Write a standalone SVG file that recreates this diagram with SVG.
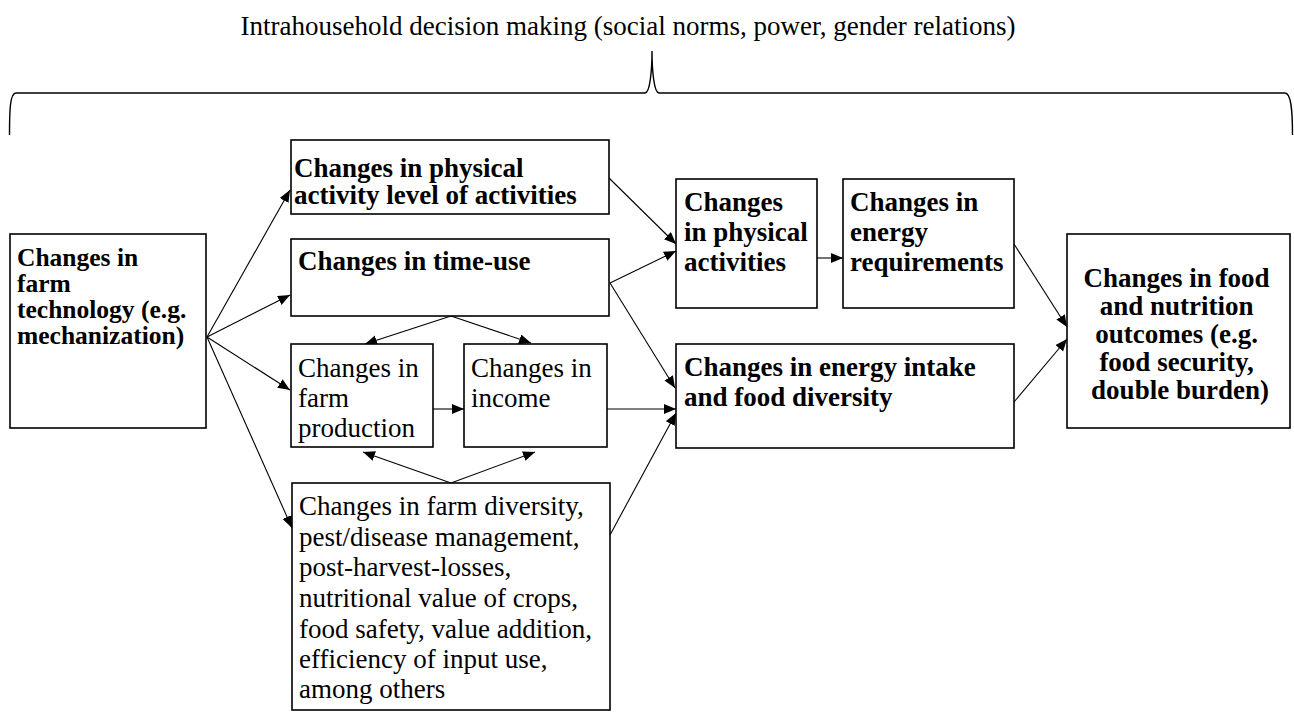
<svg xmlns="http://www.w3.org/2000/svg" width="1294" height="712" viewBox="0 0 1294 712">
<style>
  .box { fill: #fff; stroke: #000; stroke-width: 1.6; }
  .b { font-family: "Liberation Serif", "Times New Roman", serif; font-weight: bold; font-size: 27px; fill: #000; }
  .r { font-family: "Liberation Serif", "Times New Roman", serif; font-size: 27px; fill: #000; }
  .c { fill: none; stroke: #000; stroke-width: 1.1; marker-end: url(#ah); }
  .brace { fill: none; stroke: #000; stroke-width: 1.4; }
</style>
<defs>
  <marker id="ah" markerUnits="userSpaceOnUse" markerWidth="14" markerHeight="12" refX="12" refY="5" orient="auto">
    <path d="M0,0 L12,5 L0,10 Z" fill="#000"/>
  </marker>
</defs>
<rect width="1294" height="712" fill="#fff"/>

<g id="title">
  <text class="r" x="628" y="35" text-anchor="middle">Intrahousehold decision making (social norms, power, gender relations)</text>
  <path class="brace" d="M9.5,135 C9.5,110 10,93 16,93 L645,93 C650,93 652,70 652,51 C652,70 654,93 659,93 L1285,93 C1291,93 1292.5,110 1292.5,135"/>
</g>

<g id="connectors">
  <line class="c" x1="207" y1="337" x2="290" y2="190"/>
  <line class="c" x1="207" y1="337" x2="290" y2="295"/>
  <line class="c" x1="207" y1="337" x2="290" y2="390"/>
  <line class="c" x1="207" y1="337" x2="292" y2="528"/>
  <line class="c" x1="609" y1="178" x2="676" y2="244"/>
  <line class="c" x1="610" y1="283" x2="676" y2="251"/>
  <line class="c" x1="610" y1="283" x2="675" y2="388"/>
  <line class="c" x1="817" y1="258" x2="843" y2="258"/>
  <line class="c" x1="1014" y1="244" x2="1067" y2="327"/>
  <line class="c" x1="1014" y1="402" x2="1067" y2="339"/>
  <line class="c" x1="451" y1="316" x2="365" y2="344"/>
  <line class="c" x1="451" y1="316" x2="531" y2="343"/>
  <line class="c" x1="433" y1="409" x2="464" y2="409"/>
  <line class="c" x1="607" y1="409" x2="676" y2="409"/>
  <line class="c" x1="610" y1="535" x2="676" y2="413"/>
  <line class="c" x1="451" y1="483" x2="363" y2="452"/>
  <line class="c" x1="451" y1="483" x2="535" y2="452"/>
</g>

<g id="farm-technology">
  <rect class="box" x="10" y="234" width="196" height="194"/>
  <text class="b" style="font-size:25.5px">
    <tspan x="17" y="266">Changes in</tspan>
    <tspan x="17" y="292">farm</tspan>
    <tspan x="17" y="318">technology (e.g.</tspan>
    <tspan x="17" y="344">mechanization)</tspan>
  </text>
</g>

<g id="physical-activity-level">
  <rect class="box" x="291" y="140" width="318" height="74"/>
  <text class="b">
    <tspan x="294" y="177">Changes in physical</tspan>
    <tspan x="294" y="204">activity level of activities</tspan>
  </text>
</g>

<g id="time-use">
  <rect class="box" x="291" y="239" width="318" height="77"/>
  <text class="b" x="298" y="270">Changes in time-use</text>
</g>

<g id="farm-production">
  <rect class="box" x="291" y="344" width="142" height="103"/>
  <text class="r">
    <tspan x="298" y="377">Changes in</tspan>
    <tspan x="298" y="407">farm</tspan>
    <tspan x="298" y="437">production</tspan>
  </text>
</g>

<g id="income">
  <rect class="box" x="464" y="344" width="143" height="103"/>
  <text class="r">
    <tspan x="471" y="377">Changes in</tspan>
    <tspan x="471" y="407">income</tspan>
  </text>
</g>

<g id="farm-diversity">
  <rect class="box" x="292" y="483" width="318" height="227"/>
  <text class="r">
    <tspan x="299" y="515">Changes in farm diversity,</tspan>
    <tspan x="299" y="546">pest/disease management,</tspan>
    <tspan x="299" y="576">post-harvest-losses,</tspan>
    <tspan x="299" y="607">nutritional value of crops,</tspan>
    <tspan x="299" y="638">food safety, value addition,</tspan>
    <tspan x="299" y="668">efficiency of input use,</tspan>
    <tspan x="299" y="698">among others</tspan>
  </text>
</g>

<g id="physical-activities">
  <rect class="box" x="676" y="179" width="141" height="129"/>
  <text class="b">
    <tspan x="684" y="211">Changes</tspan>
    <tspan x="684" y="241">in physical</tspan>
    <tspan x="684" y="271">activities</tspan>
  </text>
</g>

<g id="energy-requirements">
  <rect class="box" x="843" y="179" width="171" height="129"/>
  <text class="b">
    <tspan x="850" y="211">Changes in</tspan>
    <tspan x="850" y="241">energy</tspan>
    <tspan x="850" y="271">requirements</tspan>
  </text>
</g>

<g id="energy-intake">
  <rect class="box" x="676" y="344" width="338" height="104"/>
  <text class="b">
    <tspan x="684" y="376">Changes in energy intake</tspan>
    <tspan x="684" y="406">and food diversity</tspan>
  </text>
</g>

<g id="nutrition-outcomes">
  <rect class="box" x="1067" y="234" width="223" height="194"/>
  <text class="b" text-anchor="middle">
    <tspan x="1180" y="287">Changes in food</tspan>
    <tspan x="1180" y="315">and nutrition</tspan>
    <tspan x="1180" y="343">outcomes (e.g.</tspan>
    <tspan x="1180" y="371">food security,</tspan>
    <tspan x="1180" y="399">double burden)</tspan>
  </text>
</g>
</svg>
